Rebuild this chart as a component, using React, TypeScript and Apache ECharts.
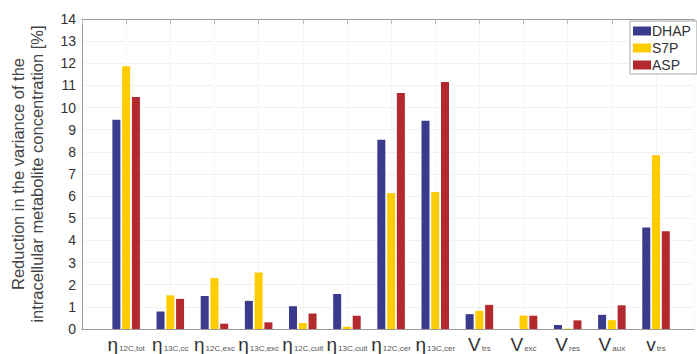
import React, { useEffect, useRef } from "react";
import * as echarts from "echarts";

const categories = [
  ["η", "12C,tot"],
  ["η", "13C,cc"],
  ["η", "12C,exc"],
  ["η", "13C,exc"],
  ["η", "12C,cult"],
  ["η", "13C,cult"],
  ["η", "12C,cer"],
  ["η", "13C,cer"],
  ["V", "trs"],
  ["V", "exc"],
  ["V", "res"],
  ["V", "aux"],
  ["v", "trs"],
];
const dhap = [9.45, 0.79, 1.49, 1.27, 1.03, 1.58, 8.55, 9.41, 0.67, 0, 0.18, 0.64, 4.58];
const s7p = [11.87, 1.52, 2.3, 2.55, 0.27, 0.1, 6.14, 6.19, 0.82, 0.61, 0.02, 0.4, 7.85];
const asp = [10.48, 1.36, 0.24, 0.3, 0.7, 0.6, 10.66, 11.16, 1.09, 0.6, 0.39, 1.07, 4.42];
const yTicks = [0, 14, 1];

const FONT = "Liberation Sans, Arial, sans-serif";

export default function App() {
  const ref = useRef<HTMLDivElement>(null);
  useEffect(() => {
    const chart = echarts.init(ref.current!, null, { renderer: "svg" });
    const mk = (name: string, arr: number[], color: string) => ({
      name,
      type: "bar",
      data: arr.map((v, i) => [i + 1, v]),
      barWidth: 8,
      barGap: "22%",
      itemStyle: { color },
      xAxisIndex: 0,
    });
    chart.setOption({
      animation: false,
      textStyle: { fontFamily: FONT },
      grid: { left: 72, right: 0, top: 19, bottom: 23 },
      legend: {
        orient: "vertical",
        left: 630,
        top: 21,
        itemWidth: 18,
        itemHeight: 9,
        itemGap: 3,
        padding: [3, 6, 2, 3],
        borderColor: "#aaa",
        borderWidth: 1,
        backgroundColor: "#fff",
        textStyle: { fontSize: 14, color: "#333", fontFamily: FONT, padding: [0, 0, 0, -4] },
        icon: "rect",
        data: ["DHAP", "S7P", "ASP"],
      },
      xAxis: [
        {
          type: "value",
          min: 0,
          max: 13.86,
          interval: 1,
          position: "bottom",
          axisLine: { lineStyle: { color: "#999" } },
          axisTick: { show: false },
          splitLine: { show: true, lineStyle: { color: "#ececec", type: "dotted" } },
          axisLabel: {
            margin: 6,
            formatter: (v: number) => {
              const c = categories[v - 1];
              if (!c) return "";
              return "{a|" + c[0] + "}{b|" + c[1] + "}";
            },
            rich: {
              a: { fontSize: 19, color: "#333", fontFamily: FONT },
              b: { fontSize: 8, color: "#555", fontFamily: FONT, padding: [8, 0, 0, 1] },
            },
          },
        },
        {
          type: "value",
          min: 0,
          max: 13.86,
          interval: 1,
          position: "top",
          axisLine: { lineStyle: { color: "#999" } },
          axisTick: { show: true, inside: true, length: 5, lineStyle: { color: "#bbb" } },
          axisLabel: { show: false },
          splitLine: { show: false },
        },
      ],
      yAxis: {
        type: "value",
        min: yTicks[0],
        max: yTicks[1],
        interval: yTicks[2],
        axisLine: { show: true, lineStyle: { color: "#999" } },
        axisTick: { show: false },
        splitLine: { show: true, lineStyle: { color: "#e4e4e4", type: "dotted" } },
        axisLabel: { fontSize: 14, color: "#333", margin: 6, fontFamily: FONT },
        name: "Reduction in the variance of the\nintracellular metabolite concentration [%]",
        nameLocation: "middle",
        nameGap: 36,
        nameTextStyle: { fontSize: 16.5, color: "#444", lineHeight: 19, fontFamily: FONT },
      },
      series: [
        mk("DHAP", dhap, "#3b3b8e"),
        mk("S7P", s7p, "#ffcc00"),
        mk("ASP", asp, "#b3292e"),
      ],
    });
    return () => chart.dispose();
  }, []);
  return <div ref={ref} style={{ width: 697, height: 354, position: "absolute", left: 0, top: 0 }} />;
}
